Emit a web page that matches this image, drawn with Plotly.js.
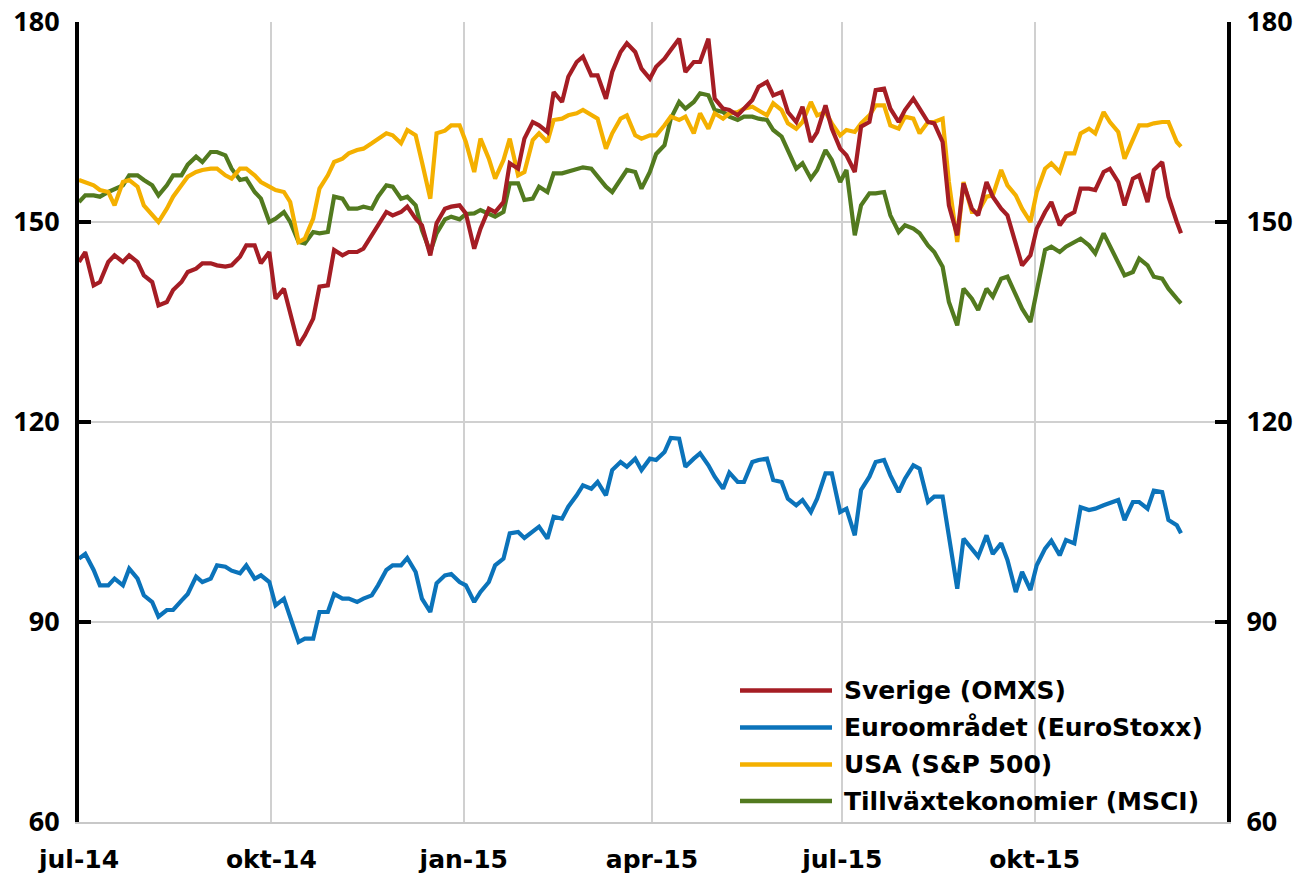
<!DOCTYPE html>
<html>
<head>
<meta charset="utf-8">
<script src="https://cdn.plot.ly/plotly-3.0.1.min.js"></script>
<style>
  html, body { margin: 0; padding: 0; background: #ffffff; }
  #chart { width: 1295px; height: 879px; }
</style>
</head>
<body>
<div id="chart"></div>
<script>
// ---- data (twice-weekly readings, index level) ----
const dates = [
  '2014-07-01','2014-07-04','2014-07-08','2014-07-11','2014-07-15','2014-07-18','2014-07-22','2014-07-25','2014-07-29',
  '2014-08-01','2014-08-05','2014-08-08','2014-08-12','2014-08-15','2014-08-19','2014-08-22','2014-08-26','2014-08-29',
  '2014-09-02','2014-09-05','2014-09-09','2014-09-12','2014-09-16','2014-09-19','2014-09-23','2014-09-26','2014-09-30',
  '2014-10-03','2014-10-07','2014-10-10','2014-10-14','2014-10-17','2014-10-21','2014-10-24','2014-10-28','2014-10-31',
  '2014-11-04','2014-11-07','2014-11-11','2014-11-14','2014-11-18','2014-11-21','2014-11-25','2014-11-28',
  '2014-12-02','2014-12-05','2014-12-09','2014-12-12','2014-12-16','2014-12-19','2014-12-23','2014-12-26','2014-12-30',
  '2015-01-02','2015-01-06','2015-01-09','2015-01-13','2015-01-16','2015-01-20','2015-01-23','2015-01-27','2015-01-30',
  '2015-02-03','2015-02-06','2015-02-10','2015-02-13','2015-02-17','2015-02-20','2015-02-24','2015-02-27',
  '2015-03-03','2015-03-06','2015-03-10','2015-03-13','2015-03-17','2015-03-20','2015-03-24','2015-03-27','2015-03-31',
  '2015-04-03','2015-04-07','2015-04-10','2015-04-14','2015-04-17','2015-04-21','2015-04-24','2015-04-28',
  '2015-05-01','2015-05-05','2015-05-08','2015-05-12','2015-05-15','2015-05-19','2015-05-22','2015-05-26','2015-05-29',
  '2015-06-02','2015-06-05','2015-06-09','2015-06-12','2015-06-16','2015-06-19','2015-06-23','2015-06-26','2015-06-30',
  '2015-07-03','2015-07-07','2015-07-10','2015-07-14','2015-07-17','2015-07-21','2015-07-24','2015-07-28','2015-07-31',
  '2015-08-04','2015-08-07','2015-08-11','2015-08-14','2015-08-18','2015-08-21','2015-08-25','2015-08-28',
  '2015-09-01','2015-09-04','2015-09-08','2015-09-11','2015-09-15','2015-09-18','2015-09-22','2015-09-25','2015-09-29',
  '2015-10-02','2015-10-06','2015-10-09','2015-10-13','2015-10-16','2015-10-20','2015-10-23','2015-10-27','2015-10-30',
  '2015-11-03','2015-11-06','2015-11-10','2015-11-13','2015-11-17','2015-11-20','2015-11-24','2015-11-27',
  '2015-12-01','2015-12-04','2015-12-08','2015-12-10'
];

const sverige = [
  144, 145.5, 140.5, 141, 144, 145, 144, 145, 144,
  142, 141, 137.5, 138, 139.8, 141, 142.5, 143, 143.8,
  143.8, 143.5, 143.3, 143.5, 144.8, 146.5, 146.5, 143.8, 145.5,
  138.5, 140, 136.3, 131.5, 133, 135.5, 140.3, 140.5, 145.8,
  145, 145.5, 145.5, 146, 148, 149.5, 151.5, 151,
  151.5, 152.3, 150.5, 149.5, 145, 149.8, 152, 152.3, 152.5,
  151.3, 146, 149, 152, 151.5, 153, 158.8, 158, 162.5,
  165, 164.5, 163.5, 169.5, 168, 171.8, 174, 174.8,
  172, 172, 168.5, 172.5, 175.5, 176.8, 175.5, 173, 171.5,
  173.3, 174.5, 175.8, 177.5, 172.5, 174, 174, 177.5,
  168.5, 167, 166.8, 166, 167, 168.3, 170.3, 171, 169,
  169.5, 166.5, 165, 167.3, 162, 163.5, 167.5, 164, 161,
  160, 157.5, 164.3, 165, 169.8, 170, 167, 165, 166.8,
  168.5, 167, 165, 164.8, 162, 152.5, 148, 155.8,
  152, 151, 156, 153.8, 152, 151, 147, 143.5, 145,
  149, 151.5, 153, 149.5, 150.8, 151.5, 155, 155, 154.8,
  157.5, 158, 156, 152.5, 156.5, 157, 153, 157.8,
  159, 153.8, 150, 148.3
];

const euroStoxx = [
  99.5, 100.2, 97.8, 95.5, 95.5, 96.5, 95.5, 98, 96.5,
  94, 93, 90.8, 91.8, 91.8, 93.2, 94.2, 96.8, 96,
  96.5, 98.5, 98.3, 97.7, 97.3, 98.5, 96.5, 97, 96,
  92.5, 93.5, 90.5, 87, 87.5, 87.5, 91.5, 91.5, 94.2,
  93.5, 93.5, 93, 93.5, 94, 95.5, 97.8, 98.5,
  98.5, 99.6, 97.5, 93.5, 91.5, 95.8, 97, 97.2, 96,
  95.5, 93, 94.5, 96, 98.5, 99.5, 103.3, 103.5, 102.6,
  103.5, 104.3, 102.5, 105.8, 105.5, 107.3, 109, 110.5,
  110, 111, 109, 112.8, 114, 113.3, 114.5, 112.8, 114.5,
  114.3, 115.5, 117.6, 117.5, 113.3, 114.5, 115.3, 113.5,
  111.8, 110, 112.4, 111, 111, 114, 114.3, 114.5, 111.3,
  111, 108.5, 107.5, 108.3, 106.5, 108.5, 112.3, 112.3, 106.5,
  107, 103, 109.8, 111.8, 114, 114.3, 112, 109.5, 111.5,
  113.5, 113, 108, 108.8, 108.8, 103, 95, 102.5,
  101, 99.8, 103, 100.2, 101.8, 99.3, 94.5, 97.5, 94.8,
  98.5, 101, 102.2, 100, 102.3, 101.8, 107.2, 106.8, 107,
  107.5, 107.8, 108.3, 105.3, 108, 108, 107, 109.7,
  109.5, 105.3, 104.5, 103.3
];

const sp500 = [
  156.3, 156, 155.5, 154.8, 154.5, 152.5, 156, 156.3, 155.3,
  152.5, 151, 150, 152, 153.8, 155.5, 156.8, 157.5, 157.8,
  158, 158, 157, 156.5, 158, 158, 157, 156, 155.3,
  154.8, 154.5, 153, 147, 147.5, 150.5, 155, 157, 159,
  159.5, 160.3, 160.8, 161, 161.8, 162.5, 163.3, 163,
  161.8, 163.8, 163, 159, 153.5, 163.3, 163.7, 164.5, 164.5,
  162, 157.5, 162.5, 159.5, 156.5, 159.3, 162.5, 157, 157.5,
  162.3, 163.3, 162, 165.3, 165.5, 166, 166.3, 166.8,
  166, 165.5, 161, 163.3, 165.5, 166, 163, 162.5, 163,
  163, 164.5, 165.8, 165.3, 165.8, 163.3, 166.3, 164,
  166.3, 165.5, 166.3, 166.5, 167, 167.3, 166.8, 166, 167.8,
  166.8, 164.8, 164, 165, 168, 166, 166.5, 164.8, 163,
  163.8, 163.5, 164.8, 166, 167.5, 167.5, 164.5, 164, 165.8,
  165.5, 163.3, 165, 165, 165.5, 156, 147, 156,
  151.5, 151.5, 153.8, 154, 157.8, 155.5, 154, 152, 150,
  154.5, 158, 158.8, 157.5, 160.3, 160.3, 163.3, 164, 163.3,
  166.5, 165, 163.5, 159.5, 162.5, 164.5, 164.5, 164.8,
  165, 165, 162, 161.3
];

const msci = [
  153, 154, 154, 153.8, 154.5, 155, 155.5, 157, 157,
  156.3, 155.5, 154, 155.5, 157, 157, 158.6, 159.8, 159,
  160.5, 160.5, 160, 158, 156.3, 156.5, 154.5, 153.5, 150,
  150.5, 151.5, 150, 147, 146.8, 148.5, 148.3, 148.5, 153.8,
  153.5, 152, 152, 152.3, 152, 153.8, 155.5, 155.3,
  153.5, 153.8, 152.5, 148.8, 145.5, 148.3, 150.4, 150.8, 150.4,
  151.2, 151.3, 151.8, 151.3, 150.8, 151.5, 155.8, 155.8, 153.3,
  153.5, 155.3, 154.5, 157.3, 157.3, 157.6, 158, 158.2,
  158, 156.8, 155.3, 154.5, 156.5, 157.8, 157.5, 155, 157.5,
  160.2, 161.5, 165.5, 168, 167, 168, 169.3, 169,
  166.8, 166.5, 165.8, 165.3, 165.8, 165.8, 165.5, 165.3, 163.8,
  162.8, 160.8, 158, 158.8, 156.5, 157.8, 160.8, 159.3, 156,
  157.8, 148, 152.5, 154.3, 154.3, 154.5, 151, 148.5, 149.5,
  149, 148.3, 146.5, 145.5, 143.3, 138, 134.5, 140,
  138.5, 136.8, 140, 138.8, 141.5, 141.8, 139, 137, 135,
  139.5, 145.8, 146.3, 145.5, 146.3, 147, 147.5, 146.5, 145.3,
  148.3, 146.5, 144, 142, 142.5, 144.5, 143.5, 141.8,
  141.5, 140, 138.5, 137.8
];

const seriesNames = ['Sverige (OMXS)', 'Euroområdet (EuroStoxx)', 'USA (S&P 500)', 'Tillväxtekonomier (MSCI)'];
const seriesColors = ['#a51d24', '#0b73ba', '#f4b000', '#527a1f'];

const xTickVals = ['2014-07-01','2014-10-01','2015-01-01','2015-04-01','2015-07-01','2015-10-01','2016-01-01'];
const xTickText = ['jul-14','okt-14','jan-15','apr-15','jul-15','okt-15',''];
const yTickVals = [60, 90, 120, 150, 180];

// ---- chart ----
const seriesValues = [sverige, euroStoxx, sp500, msci];
const drawOrder = [3, 2, 1, 0];
const traces = drawOrder.map(i => ({
  type: 'scatter',
  mode: 'lines',
  name: seriesNames[i],
  x: dates,
  y: seriesValues[i],
  line: { color: seriesColors[i], width: 4.2, shape: 'linear' },
  showlegend: false,
  hovertemplate: '%{x}<br>%{y}<extra>' + seriesNames[i] + '</extra>'
}));
// carrier for the right-hand axis
traces.push({
  type: 'scatter', mode: 'lines', x: [dates[0]], y: [60], yaxis: 'y2',
  showlegend: false, hoverinfo: 'skip', line: { color: 'rgba(0,0,0,0)' }
});

const textFamily = 'DejaVu Sans, Verdana, sans-serif';
const xTickFont = { family: textFamily, size: 25, color: '#000000', weight: 700 };
const yTickFont = { family: 'Open Sans, DejaVu Sans, sans-serif', size: 27, color: '#000000', weight: 700 };
const legendFont = { family: textFamily, size: 25, color: '#000000', weight: 700 };

const yCommon = {
  range: [60, 180],
  tickmode: 'array',
  tickvals: yTickVals,
  ticktext: yTickVals.map(String),
  showline: true, linecolor: '#000000', linewidth: 4,
  ticks: 'inside', ticklen: 12, tickwidth: 4, tickcolor: '#000000',
  showgrid: true, gridcolor: '#d0d0d0', gridwidth: 2,
  zeroline: false,
  tickfont: yTickFont,
  ticklabelstandoff: 10,
  fixedrange: true
};

// custom legend (long line samples)
const plotL = 79, plotR = 1227, plotT = 22, plotB = 822;
const px2x = p => (p - plotL) / (plotR - plotL);
const px2y = p => (plotB - p) / (plotB - plotT);
const legendRows = [690.5, 727.5, 764.5, 801];
const shapes = [], annotations = [];
seriesNames.forEach((nm, i) => {
  shapes.push({
    type: 'line', xref: 'paper', yref: 'paper',
    x0: px2x(740), x1: px2x(832), y0: px2y(legendRows[i]), y1: px2y(legendRows[i]),
    line: { color: seriesColors[i], width: 4.5 }
  });
  annotations.push({
    xref: 'paper', yref: 'paper', x: px2x(842), y: px2y(legendRows[i]),
    xanchor: 'left', yanchor: 'middle', showarrow: false,
    text: nm, font: legendFont
  });
});

const layout = {
  width: 1295, height: 879,
  margin: { l: plotL, r: 1295 - plotR, t: plotT, b: 879 - plotB, pad: 0 },
  paper_bgcolor: '#ffffff', plot_bgcolor: '#ffffff',
  showlegend: false,
  xaxis: {
    type: 'date',
    range: ['2014-07-01', '2016-01-01'],
    tickmode: 'array', tickvals: xTickVals, ticktext: xTickText,
    showgrid: true, gridcolor: '#d0d0d0', gridwidth: 2,
    showline: true, linecolor: '#c8c8c8', linewidth: 2,
    ticks: '', zeroline: false,
    tickfont: xTickFont,
    ticklabelstandoff: 14,
    fixedrange: true
  },
  yaxis: Object.assign({}, yCommon, { side: 'left' }),
  yaxis2: Object.assign({}, yCommon, { side: 'right', overlaying: 'y', showgrid: false }),
  shapes: shapes,
  annotations: annotations
};

Plotly.newPlot('chart', traces, layout, { displayModeBar: false, staticPlot: false });
</script>
</body>
</html>
